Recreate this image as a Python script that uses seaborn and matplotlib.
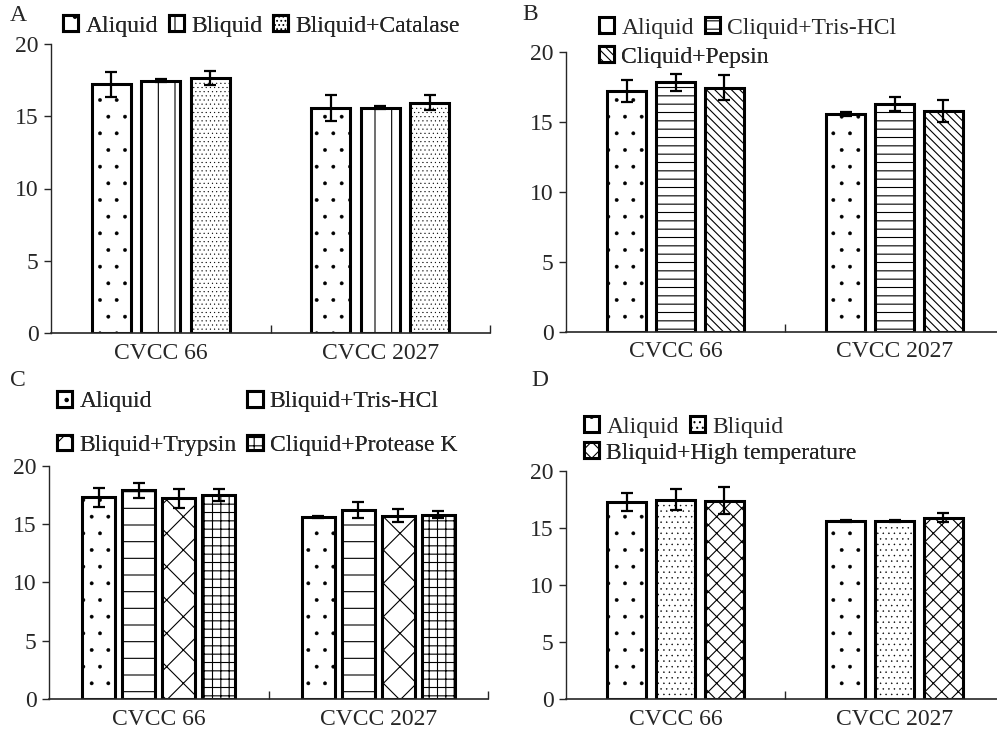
import numpy as np
import pandas as pd
import matplotlib
matplotlib.use('Agg')
import matplotlib.pyplot as plt
import seaborn as sns

# ---------------------
# Data
# ---------------------
strains = ['CVCC 66', 'CVCC 2027']

# panel A
treat_a = ['Aliquid', 'Bliquid', 'Bliquid+Catalase']
mean_a = [[17.2, 15.6], [17.45, 15.6], [17.65, 15.95]]
sd_a = [[0.85, 0.9], [0.1, 0.1], [0.5, 0.5]]

# panel B
treat_b = ['Aliquid', 'Cliquid+Tris-HCl', 'Cliquid+Pepsin']
mean_b = [[17.25, 15.6], [17.85, 16.3], [17.45, 15.8]]
sd_b = [[0.8, 0.15], [0.6, 0.5], [0.9, 0.8]]

# panel C
treat_c = ['Aliquid', 'Bliquid+Tris-HCl', 'Bliquid+Trypsin', 'Cliquid+Protease K']
mean_c = [[17.3, 15.6], [17.9, 16.2], [17.2, 15.7], [17.5, 15.8]]
sd_c = [[0.8, 0.1], [0.65, 0.65], [0.8, 0.55], [0.5, 0.3]]

# panel D
treat_d = ['Aliquid', 'Bliquid', 'Bliquid+High temperature']
mean_d = [[17.3, 15.6], [17.5, 15.6], [17.4, 15.9]]
sd_d = [[0.8, 0.1], [0.9, 0.1], [1.2, 0.4]]

yticks = [0, 5, 10, 15, 20]

# ---------------------
# Style
# ---------------------
sns.set_style('ticks')
plt.rcParams['font.family'] = ['Liberation Serif', 'DejaVu Serif']
plt.rcParams['hatch.linewidth'] = 0.8
plt.rcParams['hatch.color'] = 'black'

W, H = 997, 735
fig = plt.figure(figsize=(W/100, H/100), dpi=100)
FS = 17


def make_df(treats, means):
    rows = []
    for t, m in zip(treats, means):
        for s, v in zip(strains, m):
            rows.append({'strain': s, 'treatment': t, 'value': v})
    return pd.DataFrame(rows)


def panel(rect, treats, means, sds, hatches, width, gap):
    ax = fig.add_axes([rect[0]/W, 1-rect[3]/H, (rect[1]-rect[0])/W, (rect[3]-rect[2])/H])
    df = make_df(treats, means)
    sns.barplot(data=df, x='strain', y='value', hue='treatment', ax=ax,
                errorbar=None, width=width, gap=gap, saturation=1,
                palette=['white']*len(treats), edgecolor='black',
                linewidth=2.2, legend=False)
    bars = list(ax.containers)
    for i, cont in enumerate(bars):
        xs = []
        for p in cont.patches:
            p.set_hatch(hatches[i])
            # thinner strokes for dotted fills so the dots stay small
            if '.' in hatches[i] and hasattr(p, 'set_hatch_linewidth'):
                p.set_hatch_linewidth(0.3)
            xs.append(p.get_x() + p.get_width()/2)
        ax.errorbar(xs, means[i], yerr=sds[i], fmt='none', ecolor='black',
                    elinewidth=1.6, capsize=4, capthick=1.6, zorder=5)
    ax.set_ylim(0, 20)
    ax.set_yticks(yticks)
    ax.set_xlim(-0.5, 1.5)
    ax.set_xlabel('')
    ax.set_ylabel('')
    sns.despine(ax=ax)
    ax.spines['left'].set_linewidth(1.0)
    ax.spines['bottom'].set_linewidth(1.2)
    ax.tick_params(axis='y', direction='out', length=5, width=1.0, labelsize=FS, pad=4)
    ax.tick_params(axis='x', which='major', length=0, labelsize=FS, pad=7)
    ax.set_xticks([0.5, 1.5], minor=True)
    ax.tick_params(axis='x', which='minor', direction='in', length=6, width=1.0)
    return ax, bars


def legend_row(ax, handles, labels, x, y, ncol=3, **kw):
    leg = ax.legend(handles, labels, loc='center left',
                    bbox_to_anchor=(x/W, 1-y/H), bbox_transform=fig.transFigure,
                    ncol=ncol, frameon=False, borderpad=0, borderaxespad=0,
                    handlelength=0.65, handleheight=0.65, handletextpad=0.3,
                    columnspacing=0.45, fontsize=FS, **kw)
    ax.add_artist(leg)
    return leg


# ---------------------
# Panels
# ---------------------
ax_a, bars_a = panel((51, 490, 44, 333), treat_a, mean_a, sd_a, ['.', '|', '....'], 0.675, 0.21)
ax_b, bars_b = panel((566, 1004, 52.3, 331.7), treat_b, mean_b, sd_b, ['.', '--', '\\\\\\\\'], 0.67, 0.21)
ax_c, bars_c = panel((49, 488, 465.7, 699), treat_c, mean_c, sd_c, ['.', '-', 'x', '++'], 0.73, 0.18)
ax_d, bars_d = panel((566, 1004, 471, 699), treat_d, mean_d, sd_d, ['.', '...', 'xx'], 0.67, 0.21)

# legends
h = [c.patches[0] for c in bars_a]
legend_row(ax_a, h, treat_a, 63, 26, ncol=3)

h = [c.patches[0] for c in bars_b]
legend_row(ax_b, h[:2], treat_b[:2], 599, 28, ncol=2)
legend_row(ax_b, h[2:], treat_b[2:], 599, 57, ncol=1)

h = [c.patches[0] for c in bars_c]
legend_row(ax_c, [h[0], h[2], h[1], h[3]],
           [treat_c[0], treat_c[2], treat_c[1], treat_c[3]],
           57, 423.5, ncol=2, labelspacing=0.95)

h = [c.patches[0] for c in bars_d]
legend_row(ax_d, h[:2], treat_d[:2], 584, 427, ncol=2)
legend_row(ax_d, h[2:], treat_d[2:], 584, 453, ncol=1)

# panel letters
for lab, x, y in [('A', 18, 15.5), ('B', 530, 14), ('C', 18, 380), ('D', 540, 381)]:
    fig.text(x/W, 1-y/H, lab, fontsize=FS, ha='center', va='center')

fig.savefig('out.png', dpi=100)
